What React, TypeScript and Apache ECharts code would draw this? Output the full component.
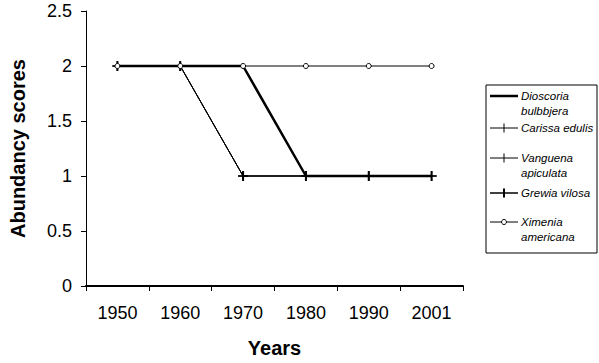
import React, { useEffect, useRef } from "react";
import * as echarts from "echarts";

const years = ["1950", "1960", "1970", "1980", "1990", "2001"];
const dioscoria = [2, 2, 2, 1, 1, 1];
const carissa = [2, 2, 1, 1, 1, 1];
const vanguena = [2, 2, 1, 1, 1, 1];
const grewia = [2, 2, 1, 1, 1, 1];
const ximenia = [2, 2, 2, 2, 2, 2];
const seriesNames = [
  "Dioscoria bulbbjera",
  "Carissa edulis",
  "Vanguena apiculata",
  "Grewia vilosa",
  "Ximenia americana",
];

const FONT = '"Liberation Sans", Arial, sans-serif';
const PLUS = "path://M4.5,0H5.5V10H4.5Z M0,4.5H10V5.5H0Z";
const PLUS_BOLD = "path://M4,0H6V10H4Z M0,4.5H10V5.5H0Z";

export default function App() {
  const ref = useRef<HTMLDivElement>(null);
  useEffect(() => {
    if (!ref.current) return;
    document.body.style.margin = "0";
    const chart = echarts.init(ref.current, null, { renderer: "svg" });
    const lx0 = 490;
    const lx1 = 518;
    const tx = 521;
    const legendFont = `italic 11.5px ${FONT}`;
    const txt = (t: string, y: number) => ({
      type: "text",
      x: tx,
      y,
      style: { text: t, font: legendFont, fill: "#000", verticalAlign: "middle" },
    });
    const seg = (y: number, w: number) => ({
      type: "line",
      shape: { x1: lx0, y1: y, x2: lx1, y2: y },
      style: { stroke: "#000", lineWidth: w },
    });
    const plusV = (y: number, w: number) => ({
      type: "line",
      shape: { x1: 504, y1: y - 4.5, x2: 504, y2: y + 4.5 },
      style: { stroke: "#000", lineWidth: w },
    });
    chart.setOption({
      animation: false,
      grid: { left: 73, top: 11, right: 136, bottom: 76 },
      xAxis: {
        type: "category",
        data: years,
        boundaryGap: true,
        name: "Years",
        nameLocation: "middle",
        nameGap: 52,
        nameTextStyle: { fontFamily: FONT, fontSize: 20, fontWeight: "bold", color: "#000" },
        axisLine: { lineStyle: { color: "#000", width: 2 } },
        axisTick: { show: true, length: 5, inside: false, lineStyle: { color: "#000" } },
        axisLabel: { fontFamily: FONT, fontSize: 18, color: "#000", margin: 18 },
        splitLine: { show: false },
      },
      yAxis: {
        type: "value",
        min: 0,
        max: 2.5,
        interval: 0.5,
        name: "Abundancy scores",
        nameLocation: "middle",
        nameGap: 58,
        nameTextStyle: { fontFamily: FONT, fontSize: 20, fontWeight: "bold", color: "#000" },
        axisLine: { show: true, lineStyle: { color: "#000", width: 1 } },
        axisTick: { show: true, length: 5, lineStyle: { color: "#000" } },
        axisLabel: { fontFamily: FONT, fontSize: 18, color: "#000", margin: 14 },
        splitLine: { show: false },
      },
      series: [
        {
          name: seriesNames[0],
          type: "line",
          data: dioscoria,
          symbol: "none",
          lineStyle: { color: "#000", width: 2.5 },
          z: 2,
        },
        {
          name: seriesNames[1],
          type: "line",
          data: carissa,
          symbol: PLUS,
          symbolSize: 10,
          itemStyle: { color: "#000" },
          lineStyle: { color: "#000", width: 1 },
          z: 3,
        },
        {
          name: seriesNames[2],
          type: "line",
          data: vanguena,
          symbol: PLUS,
          symbolSize: 10,
          itemStyle: { color: "#000" },
          lineStyle: { color: "#000", width: 1 },
          z: 3,
        },
        {
          name: seriesNames[3],
          type: "line",
          data: grewia,
          symbol: PLUS_BOLD,
          symbolSize: 10,
          itemStyle: { color: "#000" },
          lineStyle: { color: "#000", width: 1 },
          z: 4,
        },
        {
          name: seriesNames[4],
          type: "line",
          data: ximenia,
          symbol: "circle",
          symbolSize: 5,
          itemStyle: { color: "#fff", borderColor: "#000", borderWidth: 1 },
          lineStyle: { color: "#000", width: 1 },
          z: 5,
        },
      ],
      graphic: [
        {
          type: "rect",
          shape: { x: 486, y: 85, width: 111, height: 168 },
          style: { fill: "#fff", stroke: "#000", lineWidth: 1 },
        },
        seg(96, 2.5),
        txt("Dioscoria", 96),
        txt("bulbbjera", 111),
        seg(128, 1),
        plusV(128, 1),
        txt("Carissa edulis", 128),
        seg(158, 1),
        plusV(158, 1),
        txt("Vanguena", 158),
        txt("apiculata", 173),
        seg(193, 1.5),
        plusV(193, 2),
        txt("Grewia vilosa", 193),
        seg(222, 1),
        {
          type: "circle",
          shape: { cx: 504, cy: 222, r: 2.5 },
          style: { fill: "#fff", stroke: "#000", lineWidth: 1 },
        },
        txt("Ximenia", 222),
        txt("americana", 237),
      ],
    });
    return () => chart.dispose();
  }, []);
  return <div ref={ref} style={{ width: 599, height: 363 }} />;
}
